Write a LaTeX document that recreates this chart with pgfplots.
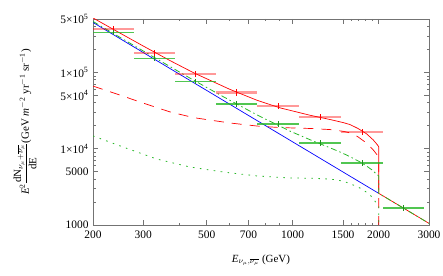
\documentclass[border=0pt]{standalone}
\usepackage{amsmath}
\usepackage{fontspec}
\setmainfont{Liberation Serif}
\usepackage{pgfplots}
\pgfplotsset{compat=1.18}
\usepackage{pgfplotstable}

\definecolor{mgreen}{rgb}{0.15,0.72,0.15}
\definecolor{frame}{gray}{0.45}

\pgfplotstableread{
x y xm xp ey
236 370000 36 42.3 37000
328.3 181000 50 59 18100
456.9 95300 69.6 82.1 9530
635.8 54500 96.8 114.2 5450
888.3 36300 138.3 163.7 3630
1246 26000 194 230 2600
1748 16600 272 322 1660
}\redpts

\pgfplotstableread{
x y xm xp ey
236 335000 36 42.3 26800
328.3 153000 50 59 12240
456.9 75500 69.6 82.1 6040
635.8 38500 96.8 114.2 3080
888.3 21100 138.3 163.7 1690
1246 11900 194 230 950
1748 6500 272 322 520
2442 1670 372 439 134
}\greenpts

\begin{document}
\begin{tikzpicture}
\begin{axis}[
  scale only axis, width=336bp, height=206bp,
  xmode=log, ymode=log,
  xmin=200, xmax=3000, ymin=1000, ymax=500000,
  xtick={200,300,500,700,1000,1500,2000,3000},
  xticklabels={200,300,500,700,1000,1500,2000,3000},
  minor xtick={400,600,800,900,1600,1700,1800,1900},
  ytick={1000,5000,10000,50000,100000,500000},
  yticklabels={1000,5000,{1×10\textsuperscript{4}},{5×10\textsuperscript{4}},{1×10\textsuperscript{5}},{5×10\textsuperscript{5}}},
  minor ytick={2000,3000,4000,6000,7000,8000,9000,20000,30000,40000,60000,70000,80000,90000,200000,300000,400000},
  tick align=inside,
  major tick length=5bp, minor tick length=2.5bp,
  axis line style={frame, line width=0.6pt},
  every tick/.style={frame, line width=0.5pt},
  tick label style={font=\fontsize{11.5}{13}\selectfont},
  xticklabel style={yshift=-2.5bp},
  yticklabel style={xshift=-1bp},
  label style={font=\fontsize{11}{13}\selectfont},
  xlabel={\textit{E}$_{\nu_\mu,\overline{\nu_\mu}}$ (GeV)},
  ylabel={\textit{E}\textsuperscript{2}$\dfrac{\text{dN}_{\nu_\mu+\overline{\nu_\mu}}}{\text{dE}}$(GeV \textit{m}\textsuperscript{$-$2} yr\textsuperscript{$-$1} sr\textsuperscript{$-$1})},
  ylabel style={at={(rel axis cs:-0.2024,0.5)}, anchor=center},
  xlabel style={at={(rel axis cs:0.5,-0.17)}, anchor=center},
]
\coordinate (SW) at (rel axis cs:0,0);
\coordinate (NE) at (rel axis cs:1,1);

% background (blue)
\addplot[blue, line width=0.7pt] coordinates {
(200,450000) (300,181600) (500,57900) (1000,12270) (1500,4950) (2000,2600)
};
% red dashed
\addplot[red, line width=0.7pt, dash pattern=on 10bp off 8bp] coordinates {
(200,66000) (250,50000) (300,39500) (372,30300) (450,25500) (603,21700)
(750,19800) (902,18900) (1150,18400) (1351,17800) (1500,16900) (1587,16100)
(1692,14300) (1816,11800) (1915,9600) (1980,8200) (2000,7800) (2000,100)
};
% green dotted
\addplot[mgreen, line width=0.8pt, dash pattern=on 1.6bp off 5.4bp] coordinates {
(200,14700) (255,10500) (335,7300) (437,5750) (570,4950) (750,4390)
(978,4130) (1150,4100) (1351,4000) (1450,3850) (1550,3600) (1629,3340)
(1720,3050) (1816,2680) (1891,2350) (1941,2050) (2000,1800) (2000,100)
};
% red solid
\addplot[red, line width=0.7pt] coordinates {
(200,516000) (250,323000) (300,221000) (372,142600) (450,98700) (603,59800)
(750,43100) (902,34300) (1150,27400) (1351,24100) (1500,22000) (1587,20700)
(1692,18400) (1816,15600) (1915,13000) (1980,11200) (2000,10600)
(2000,2600) (2500,1580) (3000,1050)
};
% green dash-dot
\addplot[mgreen, line width=0.8pt, dash pattern=on 6bp off 3bp on 1.5bp off 3bp] coordinates {
(200,464700) (255,271800) (335,149500) (437,84000) (570,48200) (750,27700)
(978,17000) (1150,13100) (1351,10260) (1450,9190) (1550,8200) (1629,7460)
(1720,6700) (1816,5910) (1891,5300) (1941,4840) (2000,4400)
(2000,2600) (2500,1580) (3000,1050)
};

% red data: horizontal bars
\addplot[draw=none, mark=none,
  error bars/.cd, x dir=both, x explicit, error mark=none,
  error bar style={red, opacity=0.4, line width=2.2pt}]
  table[x=x, y=y, x error plus=xp, x error minus=xm] {\redpts};
\addplot[draw=none, mark=none,
  error bars/.cd, y dir=both, y explicit, error mark=none,
  error bar style={red, line width=0.8pt}]
  table[x=x, y=y, y error plus=ey, y error minus=ey] {\redpts};
% green data
\addplot[draw=none, mark=none,
  error bars/.cd, x dir=both, x explicit, error mark=none,
  error bar style={mgreen, opacity=0.8, line width=1.4pt}]
  table[x=x, y=y, x error plus=xp, x error minus=xm] {\greenpts};
\addplot[draw=none, mark=none,
  error bars/.cd, y dir=both, y explicit, error mark=none,
  error bar style={mgreen!80!black, line width=0.8pt}]
  table[x=x, y=y, y error plus=ey, y error minus=ey] {\greenpts};
\end{axis}
\pgfresetboundingbox
\path[use as bounding box] ([xshift=-93bp,yshift=-51bp]SW) rectangle ([xshift=14bp,yshift=19bp]NE);
\end{tikzpicture}
\end{document}
